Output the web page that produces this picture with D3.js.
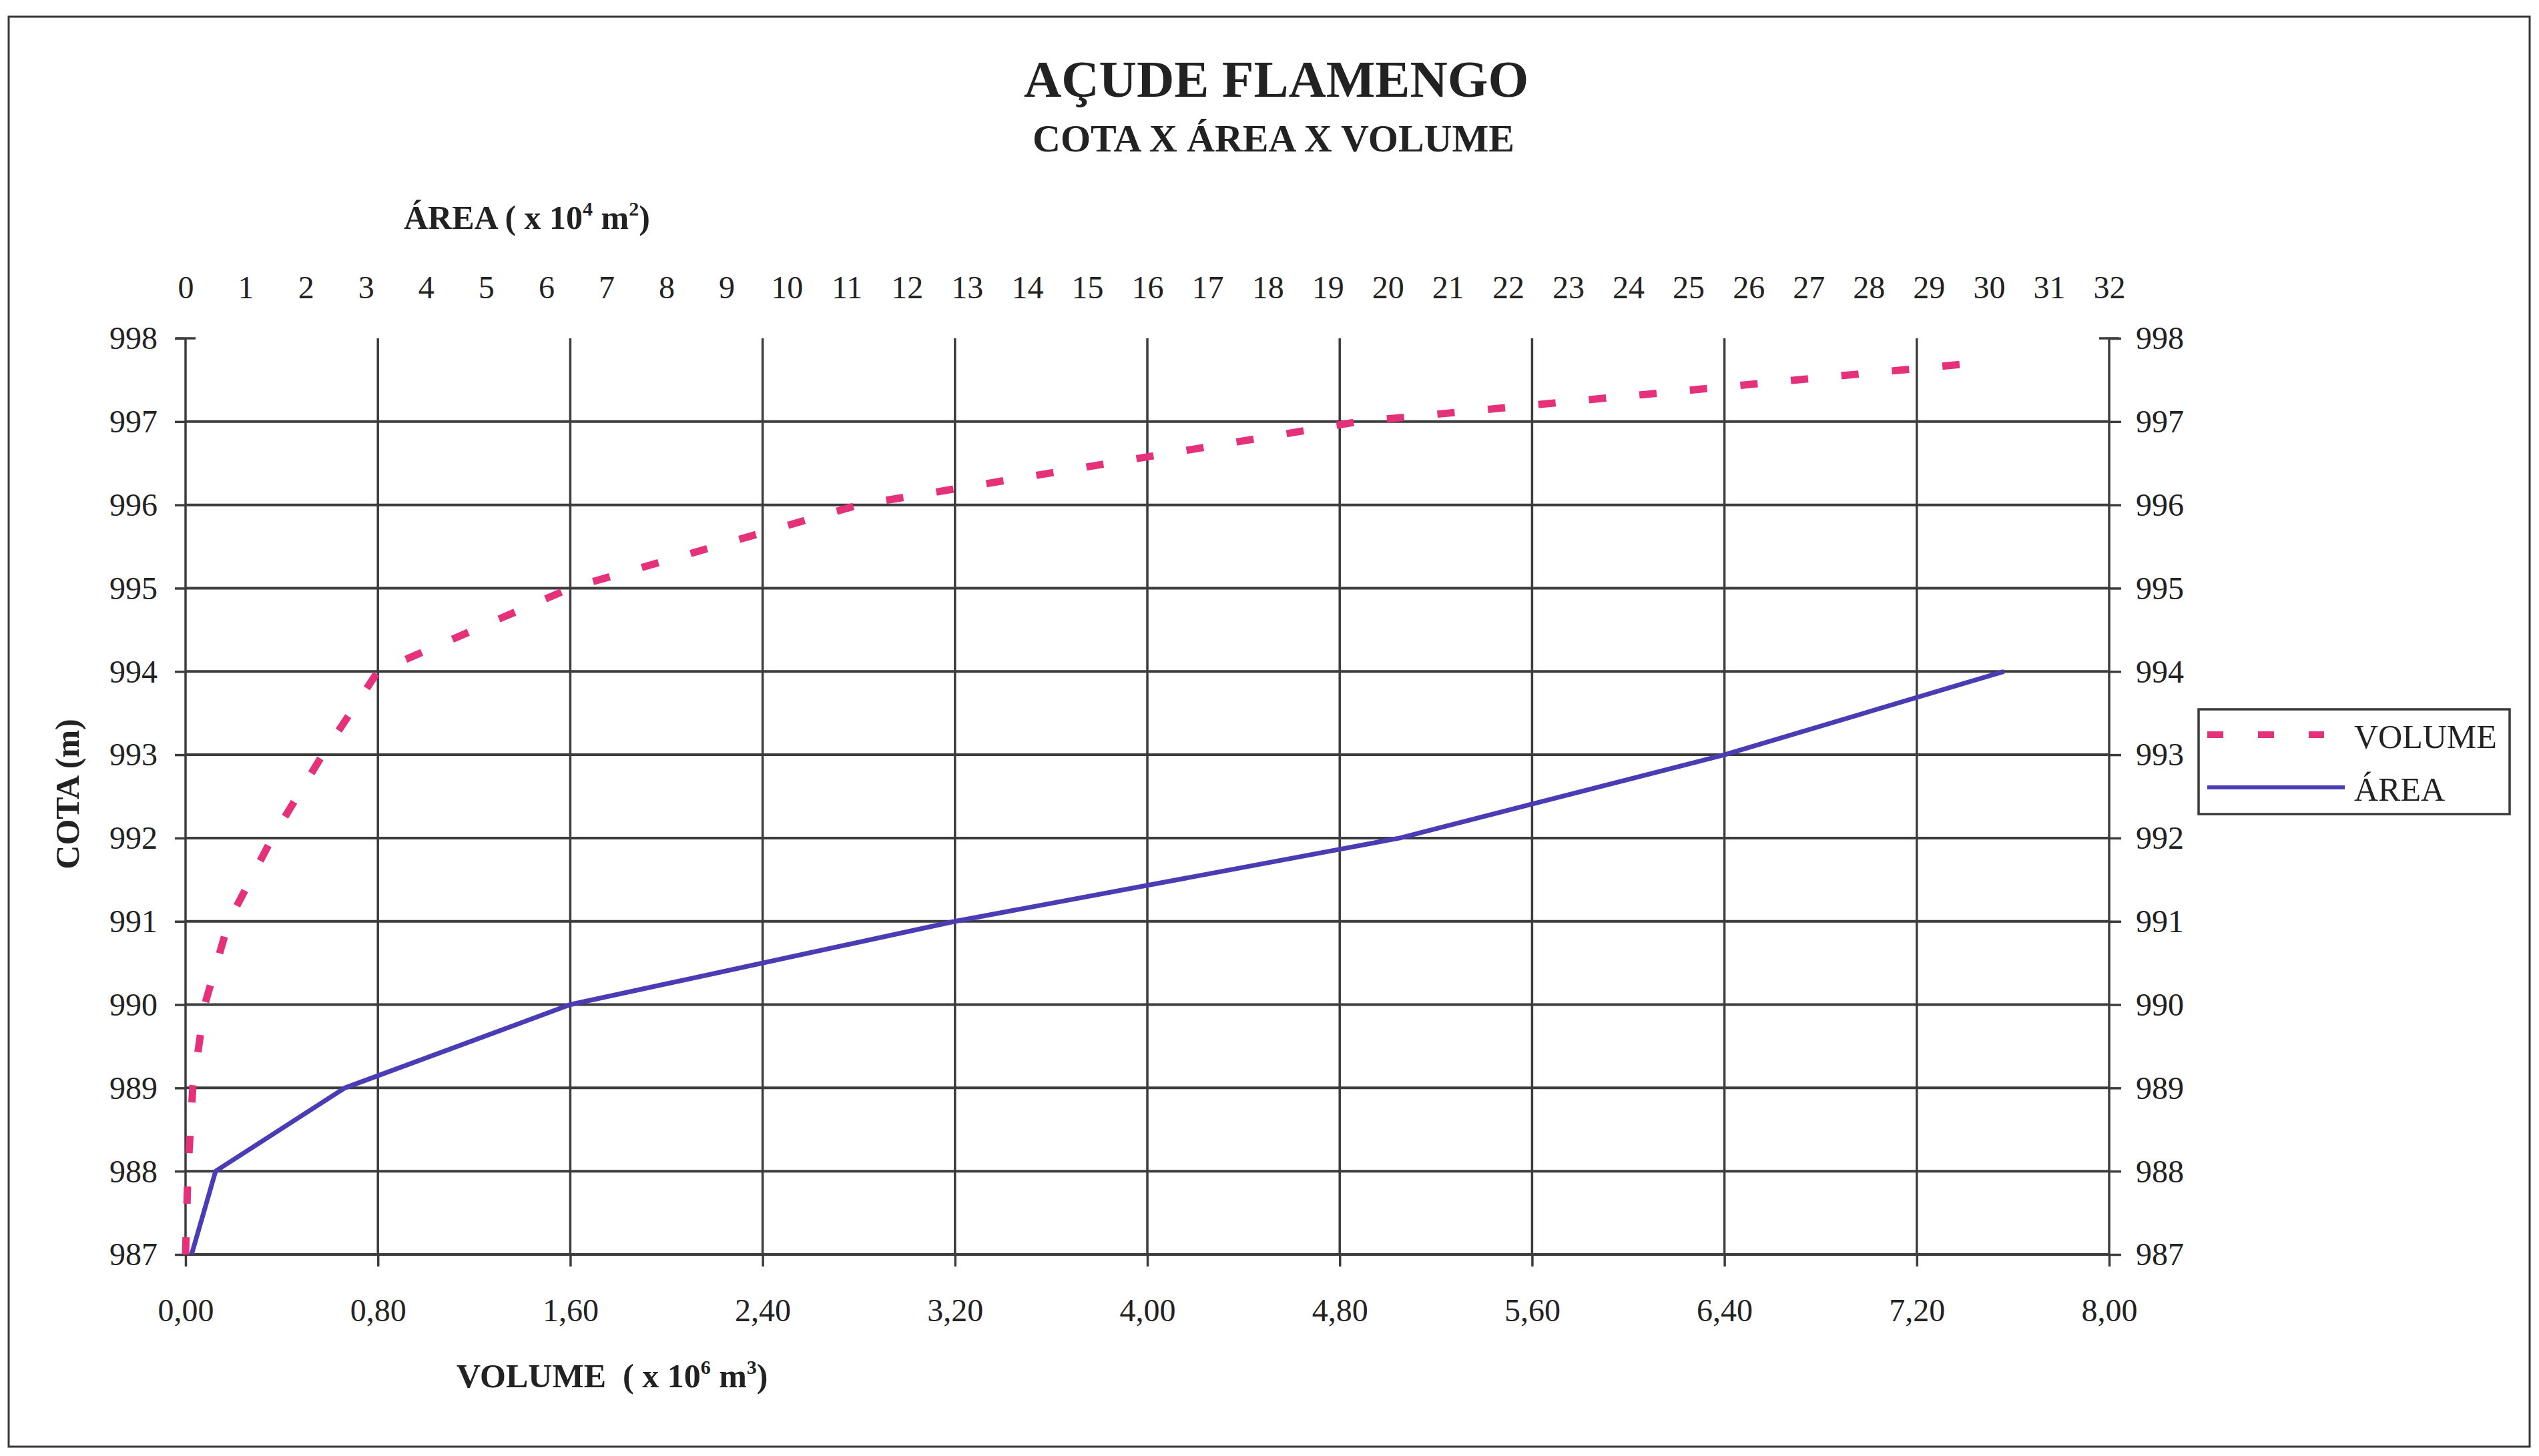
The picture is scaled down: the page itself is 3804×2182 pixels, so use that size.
<!DOCTYPE html>
<html>
<head>
<meta charset="utf-8">
<script src="https://cdn.jsdelivr.net/npm/d3@7"></script>
<style>
  html, body { margin: 0; padding: 0; background: #ffffff; }
  svg { display: block; }
  text { font-family: "Liberation Serif", "Times New Roman", serif; fill: #222; }
</style>
</head>
<body>
<svg id="chart" width="3804" height="2182"></svg>
<script>
// ---- data ----
const cotaArea = [987, 988, 989, 990, 991, 992, 993, 994];
const areaValues = [0.1, 0.5, 2.65, 6.4, 12.8, 20.2, 25.6, 30.25];          // x 10^4 m2
const cotaVolume = [987, 988, 989, 990, 991, 992, 993, 994, 995, 996, 997, 997.7];
const volumeValues = [0, 0.01, 0.03, 0.08, 0.18, 0.36, 0.57, 0.80, 1.60, 2.80, 4.88, 7.43]; // x 10^6 m3

const cotaTicks = [987, 988, 989, 990, 991, 992, 993, 994, 995, 996, 997, 998];
const volumeTicks = [0, 0.8, 1.6, 2.4, 3.2, 4.0, 4.8, 5.6, 6.4, 7.2, 8.0];
const areaTicks = [0,1,2,3,4,5,6,7,8,9,10,11,12,13,14,15,16,17,18,19,20,21,22,23,24,25,26,27,28,29,30,31,32];

const seriesNames = ["VOLUME", "ÁREA"];
const seriesColors = ["#e5317a", "#4a3cb4"];

// ---- layout ----
const svg = d3.select("#chart");
const L = 278, R = 3160, T = 507, B = 1880;

const y = d3.scaleLinear().domain([987, 998]).range([B, T]);
const xVol = d3.scaleLinear().domain([0, 8]).range([L, R]);
const xArea = d3.scaleLinear().domain([0, 32]).range([L, R]);

// outer frame
svg.append("rect").attr("x", 13).attr("y", 25).attr("width", 3777).attr("height", 2143)
  .attr("fill", "none").attr("stroke", "#3a3434").attr("stroke-width", 3);

// titles
svg.append("text").attr("x", 1912).attr("y", 145).attr("text-anchor", "middle")
  .attr("font-size", 78).attr("font-weight", "bold").text("AÇUDE FLAMENGO");
svg.append("text").attr("x", 1908).attr("y", 227).attr("text-anchor", "middle")
  .attr("font-size", 58).attr("font-weight", "bold").text("COTA X ÁREA X VOLUME");

// grid: horizontal lines
const gridColor = "#3c3c3c";
svg.append("g").selectAll("line").data(cotaTicks.filter(d => d < 998)).join("line")
  .attr("x1", L).attr("x2", R)
  .attr("y1", d => y(d)).attr("y2", d => y(d))
  .attr("stroke", gridColor).attr("stroke-width", 4);

// grid: vertical lines (include both axes)
svg.append("g").selectAll("line").data(volumeTicks).join("line")
  .attr("x1", d => xVol(d)).attr("x2", d => xVol(d))
  .attr("y1", T).attr("y2", B)
  .attr("stroke", gridColor).attr("stroke-width", 3.5);

// axes
const fmtVol = d => d3.format(".2f")(d).replace(".", ",");

const leftAxis = svg.append("g").attr("transform", `translate(${L},0)`)
  .call(d3.axisLeft(y).tickValues(cotaTicks).tickSize(16).tickPadding(26).tickFormat(d3.format("d")));
const rightAxis = svg.append("g").attr("transform", `translate(${R},0)`)
  .call(d3.axisRight(y).tickValues(cotaTicks).tickSize(18).tickPadding(22).tickFormat(d3.format("d")));
const bottomAxis = svg.append("g").attr("transform", `translate(0,${B})`)
  .call(d3.axisBottom(xVol).tickValues(volumeTicks).tickSize(18).tickFormat(fmtVol));
const topAxis = svg.append("g").attr("transform", `translate(0,${T})`)
  .call(d3.axisTop(xArea).tickValues(areaTicks).tickSize(0).tickFormat(d3.format("d")));

[leftAxis, rightAxis, bottomAxis, topAxis].forEach(g => {
  g.select(".domain").remove();
  g.selectAll(".tick line").attr("stroke", gridColor).attr("stroke-width", 3.5);
  g.selectAll(".tick text").attr("font-family", "'Liberation Serif', 'Times New Roman', serif")
    .attr("font-size", 48).attr("fill", "#222");
});
leftAxis.selectAll(".tick text").attr("dy", "0.33em");
rightAxis.selectAll(".tick text").attr("dy", "0.33em");
bottomAxis.selectAll(".tick text").attr("y", 100).attr("dy", "0");
topAxis.selectAll(".tick text").attr("y", -60).attr("dy", "0");

// crossing ticks at top value (998)
svg.append("g").selectAll("line").data([L, R]).join("line")
  .attr("x1", d => d - 15).attr("x2", d => d + 15)
  .attr("y1", y(998)).attr("y2", y(998))
  .attr("stroke", gridColor).attr("stroke-width", 3.5);

// axis titles
const areaTitle = svg.append("text").attr("x", 605).attr("y", 343)
  .attr("font-size", 50).attr("font-weight", "bold");
areaTitle.append("tspan").text("ÁREA ( x 10");
areaTitle.append("tspan").attr("font-size", 30).attr("dy", -20).text("4");
areaTitle.append("tspan").attr("dy", 20).text(" m");
areaTitle.append("tspan").attr("font-size", 30).attr("dy", -20).text("2");
areaTitle.append("tspan").attr("dy", 20).text(")");

const volTitle = svg.append("text").attr("x", 684).attr("y", 2079)
  .attr("font-size", 50).attr("font-weight", "bold").attr("xml:space", "preserve");
volTitle.append("tspan").text("VOLUME  ( x 10");
volTitle.append("tspan").attr("font-size", 30).attr("dy", -20).text("6");
volTitle.append("tspan").attr("dy", 20).text(" m");
volTitle.append("tspan").attr("font-size", 30).attr("dy", -20).text("3");
volTitle.append("tspan").attr("dy", 20).text(")");

svg.append("text").attr("transform", "translate(118,1190) rotate(-90)")
  .attr("text-anchor", "middle").attr("font-size", 50).attr("font-weight", "bold")
  .text("COTA (m)");

// series lines
const volumeData = cotaVolume.map((c, i) => ({ c, v: volumeValues[i] }));
const areaData = cotaArea.map((c, i) => ({ c, v: areaValues[i] }));

svg.append("path").datum(areaData)
  .attr("d", d3.line().x(d => xArea(d.v)).y(d => y(d.c)))
  .attr("fill", "none").attr("stroke", seriesColors[1]).attr("stroke-width", 7)
  .attr("stroke-linejoin", "round");

svg.append("path").datum(volumeData)
  .attr("d", d3.line().x(d => xVol(d.v)).y(d => y(d.c)))
  .attr("fill", "none").attr("stroke", seriesColors[0]).attr("stroke-width", 11)
  .attr("stroke-dasharray", "26 50");

// legend
const lg = svg.append("g");
lg.append("rect").attr("x", 3294).attr("y", 1063).attr("width", 466).attr("height", 157)
  .attr("fill", "#fff").attr("stroke", "#3a3a3a").attr("stroke-width", 3.5);
const legendRows = seriesNames.map((n, i) => ({ name: n, color: seriesColors[i], dash: i === 0, yy: i === 0 ? 1101 : 1180 }));
lg.selectAll("line.sym").data(legendRows).join("line").attr("class", "sym")
  .attr("x1", 3307).attr("x2", d => d.dash ? 3482 : 3513)
  .attr("y1", d => d.yy).attr("y2", d => d.yy)
  .attr("stroke", d => d.color)
  .attr("stroke-width", d => d.dash ? 10 : 6)
  .attr("stroke-dasharray", d => d.dash ? "24 52" : null);
lg.selectAll("text").data(legendRows).join("text")
  .attr("x", 3527).attr("y", d => d.yy + 20)
  .attr("font-size", 50).text(d => d.name);
</script>
</body>
</html>
